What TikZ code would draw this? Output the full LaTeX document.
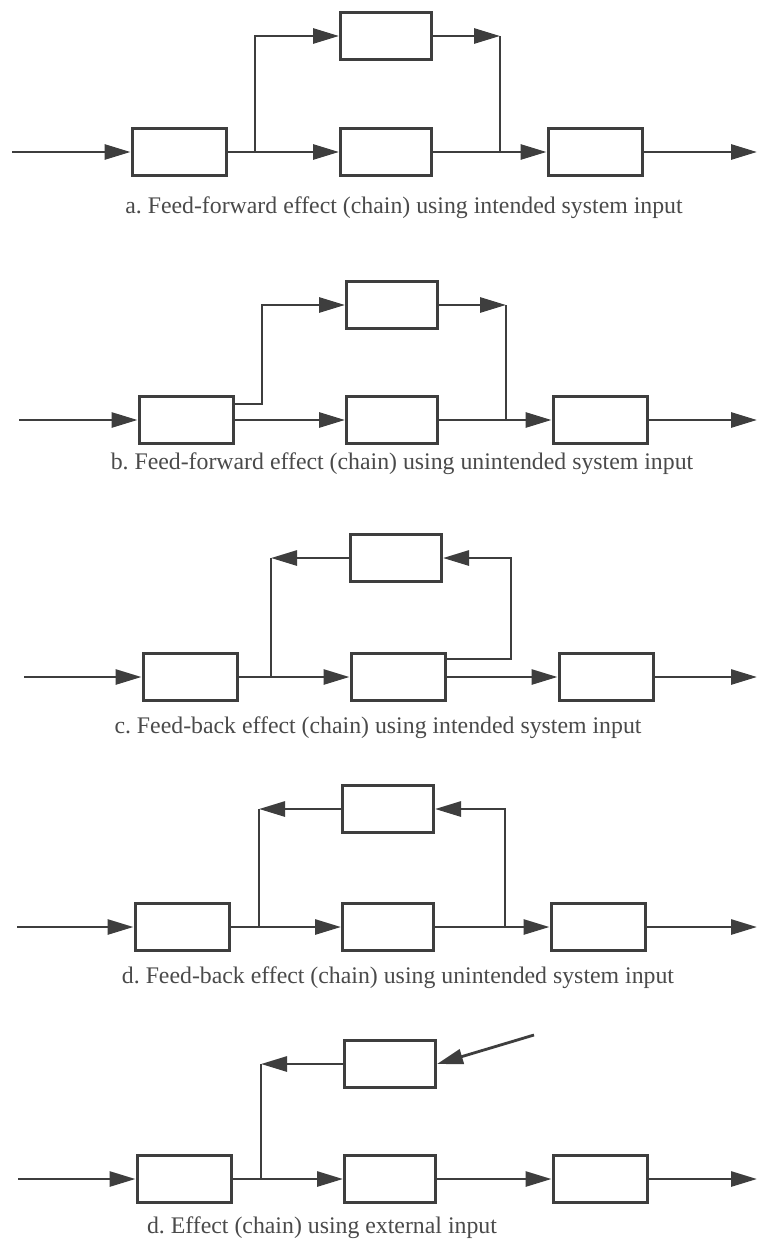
\documentclass[tikz,border=0pt]{standalone}
\usepackage{fontspec}
\setmainfont{Liberation Serif}
\usetikzlibrary{arrows.meta}
\frenchspacing
\definecolor{ink}{HTML}{3E3E3E}
\definecolor{txt}{HTML}{4A4A4A}
\tikzset{
  blk/.style={draw=ink, line width=3pt, rectangle, inner sep=0pt, minimum width=94pt, minimum height=47pt},
  topblk/.style={blk, minimum width=91pt},
  wire/.style={draw=ink, line width=2.8pt},
  arr/.style={wire, -{Triangle[length=26pt,width=15pt]}},
  capt/.style={text=txt, font=\fontsize{23.8}{28}\selectfont, inner sep=0pt}
}
\begin{document}
\begin{tikzpicture}[x=1pt,y=-1pt]
\fill[white] (0,0) rectangle (758,1242);
\useasboundingbox (0,0) rectangle (758,1242);

% ---------- a ----------
\node[blk] (a1) at (179,152) {};
\node[topblk] (a2) at (386,36) {};
\node[topblk] (a3) at (386,152) {};
\node[blk] (a4) at (595,152) {};
\coordinate (ain) at (12,152);
\coordinate (aout) at (757,152);
\coordinate (ab) at (255,152);
\coordinate (aj) at (500,36);
\coordinate (aj2) at (500,152);
\draw[arr] (ain) -- (a1);
\draw[arr] (a1) -- (a3);
\draw[arr] (ab) |- (a2);
\draw[arr] (a2) -- (aj);
\draw[wire] (aj) -- (aj2);
\draw[arr] (a3) -- (a4);
\draw[arr] (a4) -- (aout);
\node[capt] (ca) at (404,208) {a. Feed-forward effect (chain) using intended system input};

% ---------- b ----------
\node[blk] (b1) at (186,420) {};
\node[topblk] (b2) at (392,305) {};
\node[topblk] (b3) at (392,420) {};
\node[blk] (b4) at (600,420) {};
\coordinate (bin) at (19,420);
\coordinate (bout) at (757,420);
\coordinate (bs) at (233,404);
\coordinate (bc) at (262,404);
\coordinate (bj) at (506,305);
\coordinate (bj2) at (506,420);
\draw[arr] (bin) -- (b1);
\draw[arr] (b1) -- (b3);
\draw[arr] (bs) -- (bc) |- (b2);
\draw[arr] (b2) -- (bj);
\draw[wire] (bj) -- (bj2);
\draw[arr] (b3) -- (b4);
\draw[arr] (b4) -- (bout);
\node[capt] (cb) at (402,464) {b. Feed-forward effect (chain) using unintended system input};

% ---------- c ----------
\node[blk] (c1) at (190,677) {};
\node[topblk] (c2) at (396,558) {};
\node[blk] (c3) at (398,677) {};
\node[blk] (c4) at (606,677) {};
\coordinate (cin) at (24,677);
\coordinate (cout) at (757,677);
\coordinate (cbr) at (271,677);
\coordinate (ct) at (271,558);
\coordinate (cs) at (445,659);
\coordinate (cr) at (511,659);
\draw[arr] (cin) -- (c1);
\draw[arr] (c1) -- (c3);
\draw[arr] (c2) -- (ct);
\draw[wire] (ct) -- (cbr);
\draw[arr] (cs) -- (cr) |- (c2);
\draw[arr] (c3) -- (c4);
\draw[arr] (c4) -- (cout);
\node[capt] (cc) at (378,728) {c. Feed-back effect (chain) using intended system input};

% ---------- d ----------
\node[blk] (d1) at (182,927) {};
\node[topblk] (d2) at (388,809) {};
\node[topblk] (d3) at (388,927) {};
\node[blk] (d4) at (598,927) {};
\coordinate (din) at (17,927);
\coordinate (dout) at (757,927);
\coordinate (dbr) at (259,927);
\coordinate (dt) at (259,809);
\coordinate (dr) at (505,927);
\draw[arr] (din) -- (d1);
\draw[arr] (d1) -- (d3);
\draw[arr] (d2) -- (dt);
\draw[wire] (dt) -- (dbr);
\draw[arr] (dr) |- (d2);
\draw[arr] (d3) -- (d4);
\draw[arr] (d4) -- (dout);
\node[capt] (cd) at (398,978) {d. Feed-back effect (chain) using unintended system input};

% ---------- e ----------
\node[blk] (e1) at (184,1179) {};
\node[topblk] (e2) at (390,1064) {};
\node[topblk] (e3) at (390,1179) {};
\node[blk] (e4) at (600,1179) {};
\coordinate (ein) at (18,1179);
\coordinate (eout) at (757,1179);
\coordinate (ebr) at (261,1179);
\coordinate (et) at (261,1064);
\coordinate (ex) at (534,1035);
\draw[arr] (ein) -- (e1);
\draw[arr] (e1) -- (e3);
\draw[arr] (e2) -- (et);
\draw[wire] (et) -- (ebr);
\draw[arr] (ex) -- (e2.east);
\draw[arr] (e3) -- (e4);
\draw[arr] (e4) -- (eout);
\node[capt] (ce) at (322,1228) {d. Effect (chain) using external input};
\end{tikzpicture}
\end{document}
